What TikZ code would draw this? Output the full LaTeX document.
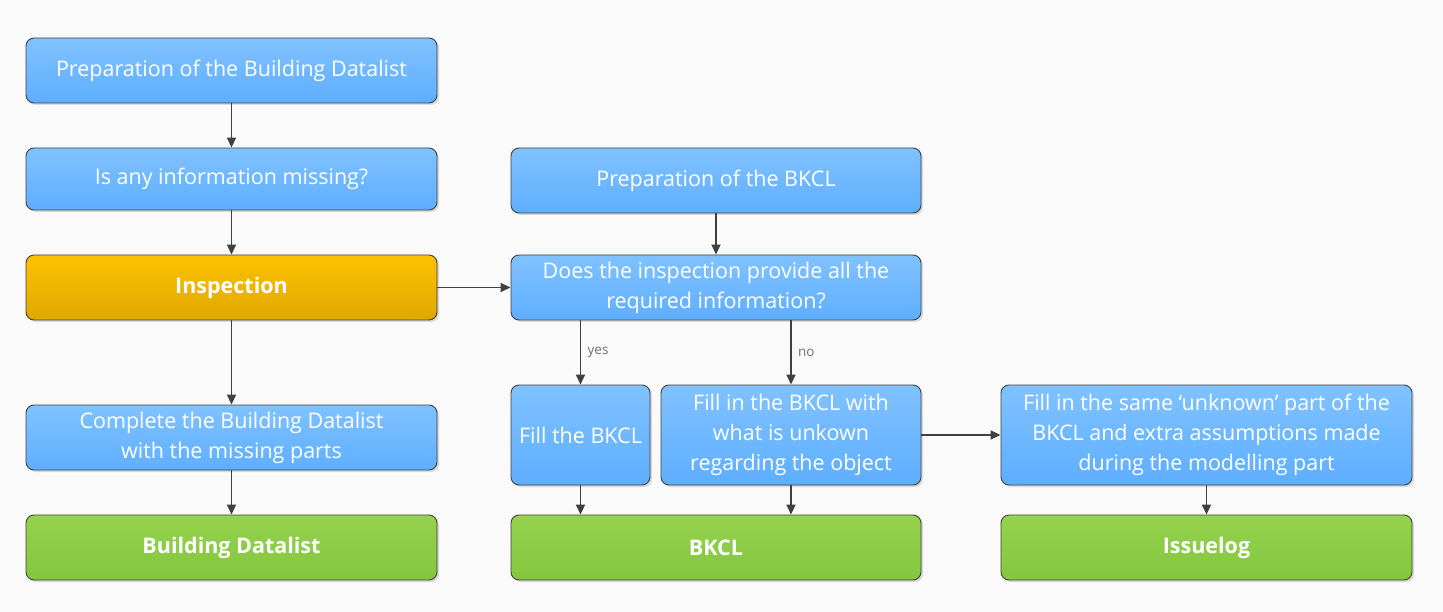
\documentclass[tikz,border=0pt]{standalone}
\usepackage{fontspec}
\setmainfont{Open Sans}
\usetikzlibrary{arrows.meta,shadows}
\definecolor{bg}{HTML}{FAFAFA}
\definecolor{btop}{HTML}{80C2FF}
\definecolor{bbot}{HTML}{5EAEFF}
\definecolor{otop}{HTML}{FCC200}
\definecolor{obot}{HTML}{E0A700}
\definecolor{gtop}{HTML}{95D24E}
\definecolor{gbot}{HTML}{84C63E}
\definecolor{edge}{HTML}{404040}
\definecolor{lbl}{HTML}{707070}
\tikzset{
  boxbase/.style={draw=edge, line width=0.9pt, rounded corners=8pt, text=white,
    align=center, font=\fontsize{21.5}{30}\selectfont, inner sep=0pt,
    drop shadow={shadow xshift=2pt, shadow yshift=-2pt, fill=black!18, opacity=0.8}},
  bluebox/.style={boxbase, top color=btop, bottom color=bbot},
  orangebox/.style={boxbase, top color=otop, bottom color=obot, font=\fontsize{21.5}{30}\selectfont\bfseries},
  greenbox/.style={boxbase, top color=gtop, bottom color=gbot, font=\fontsize{21.5}{30}\selectfont\bfseries},
  conn/.style={draw=edge, line width=1.6pt, -{Triangle[length=10pt,width=9pt]}},
  lab/.style={text=lbl, font=\fontsize{13.5}{15}\selectfont, anchor=west}
}
\newcommand{\bx}[7]{% name, style, x1, y1, x2, y2, text
  \node[#2, minimum width={(#5-#3)*1pt}, minimum height={(#6-#4)*1pt}] (#1) at ({(#3+#5)/2}, {(#4+#6)/2}) {#7};}
\begin{document}
\begin{tikzpicture}[x=1pt, y=-1pt]
\fill[bg] (0,0) rectangle (1443,612);
\useasboundingbox (0,0) rectangle (1443,612);
\bx{A}{bluebox}{26}{38}{437}{103}{Preparation of the Building Datalist}
\bx{B}{bluebox}{26}{148}{437}{210}{Is any information missing?}
\bx{C}{orangebox}{26}{255}{437}{320}{Inspection}
\bx{D}{bluebox}{26}{405}{437}{470}{Complete the Building Datalist\\with the missing parts}
\bx{E}{greenbox}{26}{515}{437}{580}{Building Datalist}
\bx{F}{bluebox}{511}{148}{921}{213}{Preparation of the BKCL}
\bx{G}{bluebox}{511}{255}{921}{320}{Does the inspection provide all the\\required information?}
\bx{H}{bluebox}{511}{385}{650}{485}{Fill the BKCL}
\bx{I}{bluebox}{661}{385}{921}{485}{Fill in the BKCL with\\what is unkown\\regarding the object}
\bx{J}{bluebox}{1001}{385}{1412}{485}{Fill in the same ‘unknown’ part of the\\BKCL and extra assumptions made\\during the modelling part}
\bx{K}{greenbox}{511}{515}{921}{580}{BKCL}
\bx{L}{greenbox}{1001}{515}{1412}{580}{Issuelog}
\draw[conn] (A) -- (B);
\draw[conn] (B) -- (C);
\draw[conn] (C) -- (D);
\draw[conn] (D) -- (E);
\draw[conn] (C) -- (G);
\draw[conn] (F) -- (G);
\draw[conn] (G.south -| H) -- node[lab, pos=0.5, xshift=3pt]{yes} (H.north);
\draw[conn] (G.south -| I) -- node[lab, pos=0.5, xshift=3pt]{no} (I.north);
\draw[conn] (H) -- (K.north -| H);
\draw[conn] (I) -- (K.north -| I);
\draw[conn] (I) -- (J);
\draw[conn] (J) -- (L);
\end{tikzpicture}
\end{document}
